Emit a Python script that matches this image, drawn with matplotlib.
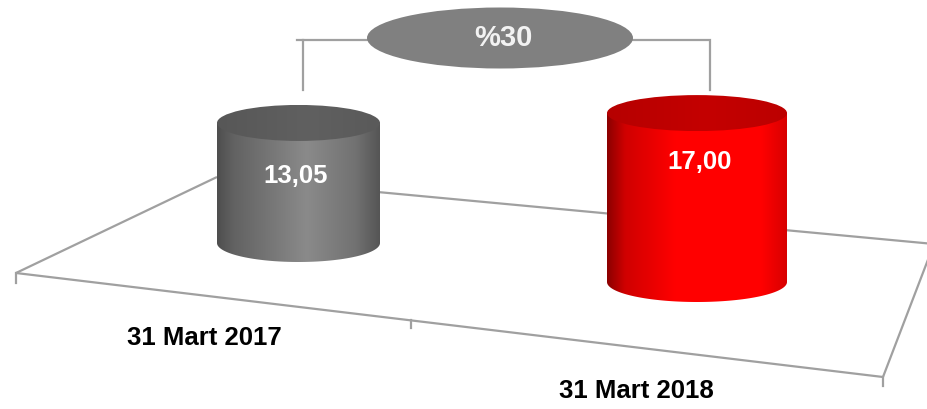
import numpy as np
import matplotlib
matplotlib.use("Agg")
import matplotlib.pyplot as plt
from matplotlib.patches import Ellipse, Polygon
from matplotlib.colors import LinearSegmentedColormap

# ---- data ----
categories = ["31 Mart 2017", "31 Mart 2018"]
values = [13.05, 17.00]
value_labels = ["13,05", "17,00"]
change_label = "%{:d}".format(int(round((values[1] / values[0] - 1) * 100)))

# ---- layout / style (pixel space) ----
W, H = 928, 409
px_per_unit = 9.2
persp = [1.0, 1.08]            # perspective size factor per category
centers_x = [298.5, 697.0]
base_y = [243.0, 282.0]
radius_x = [81.5, 90.0]
ry_top = [18.0, 18.0]
ry_bot = [19.0, 20.0]
body_cols = [["#4e4e4e", "#626262", "#8a8a8a", "#727272", "#555555"],
             ["#8c0000", "#d00000", "#ff0000", "#ff0000", "#d80000"]]
body_pos = [[0.0, 0.1, 0.55, 0.85, 1.0],
            [0.0, 0.1, 0.38, 0.86, 1.0]]
top_cols = [["#575757", "#606060", "#5a5a5a"],
            ["#b60000", "#c40000", "#bc0000"]]
label_y = [176.0, 162.0]
cat_xy = [(204, 338), (636, 391)]

fig = plt.figure(figsize=(W / 100, H / 100), dpi=100)
ax = fig.add_axes([0, 0, 1, 1])
ax.set_xlim(0, W)
ax.set_ylim(H, 0)
ax.axis("off")

FONT = ["Liberation Sans", "DejaVu Sans"]
line_c = "#a0a0a0"

# floor
FL, FR, BR, BL = (16, 273), (883, 377), (934, 244), (217, 177)
for a, b in [(FL, FR), (FR, BR), (BR, BL), (BL, FL)]:
    ax.plot([a[0], b[0]], [a[1], b[1]], color=line_c, lw=1.6, zorder=1,
            solid_capstyle="butt")
# ticks on front edge
def front_y(x):
    return FL[1] + (FR[1] - FL[1]) * (x - FL[0]) / (FR[0] - FL[0])
for tx, tl in [(FL[0], 10), (411, 8), (FR[0], 9)]:
    y0 = front_y(tx)
    ax.plot([tx, tx], [y0, y0 + tl], color=line_c, lw=1.6, zorder=1)


def gradient_img(cols, pos, extent, clip, z):
    cmap = LinearSegmentedColormap.from_list("g", list(zip(pos, cols)))
    grad = np.linspace(0, 1, 256).reshape(1, -1)
    im = ax.imshow(grad, cmap=cmap, extent=extent, aspect="auto",
                   zorder=z, interpolation="bilinear")
    im.set_clip_path(clip)
    return im


for i, v in enumerate(values):
    cx, by, rx = centers_x[i], base_y[i], radius_x[i]
    h = v * px_per_unit * persp[i]
    ty = by - h
    x0, x1 = cx - rx, cx + rx
    # body path: top corners + front half of bottom ellipse
    t = np.linspace(np.pi, 0, 100)
    bx = cx + rx * np.cos(t)
    byy = by + ry_bot[i] * np.sin(t)
    pts = [(x0, ty)] + list(zip(bx, byy)) + [(x1, ty)]
    body = Polygon(pts, closed=True, facecolor="none", edgecolor="none",
                   zorder=2)
    ax.add_patch(body)
    gradient_img(body_cols[i], body_pos[i], (x0, x1, by + ry_bot[i], ty),
                 body, 2)
    # top ellipse
    top = Ellipse((cx, ty), 2 * rx, 2 * ry_top[i], facecolor="none",
                  edgecolor="none", zorder=3)
    ax.add_patch(top)
    gradient_img(top_cols[i], [0.0, 0.55, 1.0],
                 (x0, x1, ty + ry_top[i], ty - ry_top[i]), top, 3)
    # value label
    ax.text(cx - 3 if i == 0 else cx + 3, label_y[i], value_labels[i],
            ha="center", va="center", fontsize=18.5, fontweight="bold",
            color="white", family=FONT, zorder=5)
    # category label
    ax.text(cat_xy[i][0], cat_xy[i][1], categories[i], ha="center",
            va="center", fontsize=18.5, fontweight="bold", color="black",
            family=FONT, zorder=5)

# change bracket
ax.plot([303, 303, 710, 710], [90, 40, 40, 90], color=line_c, lw=1.6,
        zorder=4, solid_joinstyle="miter")
ax.plot([297, 303], [40, 40], color=line_c, lw=1.6, zorder=4)
ax.add_patch(Ellipse((500, 38), 266, 61, facecolor="#808080",
                     edgecolor="none", zorder=5))
ax.text(503, 38, change_label, ha="center", va="center", fontsize=21,
        fontweight="bold", color="#f2f2f2", family=FONT, zorder=6)

ax.set_xlim(0, W)
ax.set_ylim(H, 0)
fig.savefig("out.png", dpi=100)
